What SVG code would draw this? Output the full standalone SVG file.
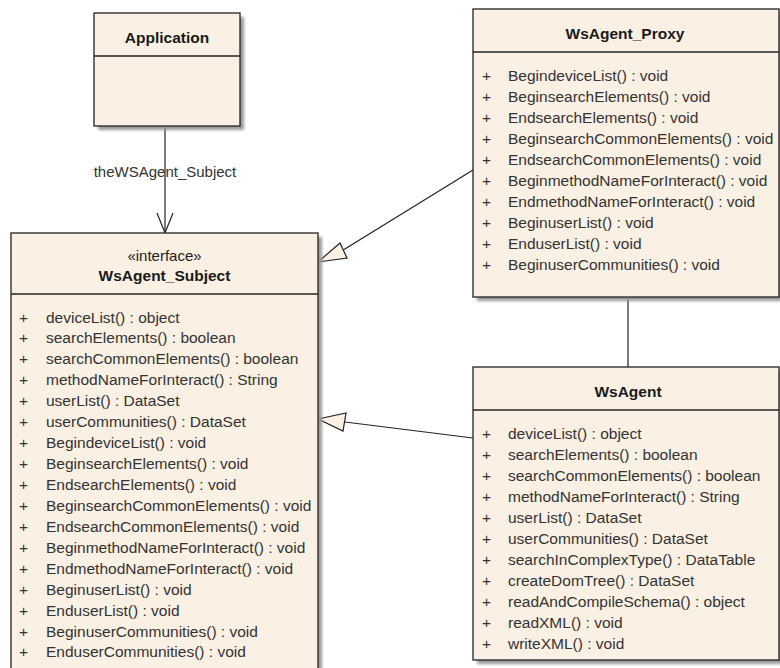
<svg xmlns="http://www.w3.org/2000/svg" width="780" height="668" viewBox="0 0 780 668">
<defs>
<filter id="sh" x="-10%" y="-10%" width="130%" height="130%"><feGaussianBlur stdDeviation="1.5"/></filter>
<style>
.box{fill:#FAF0E3;stroke:#222;stroke-width:1.3}
.shadow{fill:#9a9a9a;filter:url(#sh)}
.sep{stroke:#222;stroke-width:1.3}
.title{font-family:"Liberation Sans",Arial,sans-serif;font-size:15.5px;font-weight:bold;fill:#1a1a1a;text-anchor:middle}
.stereo{font-family:"Liberation Sans",Arial,sans-serif;font-size:15px;fill:#222;text-anchor:middle}
.m{font-family:"Liberation Sans",Arial,sans-serif;font-size:15.5px;fill:#333}
.lbl{font-family:"Liberation Sans",Arial,sans-serif;font-size:15px;fill:#333;text-anchor:middle}
.line{stroke:#222;stroke-width:1.2;fill:none}
.tri{stroke:#222;stroke-width:1.2;fill:#FAF0E3}
</style>
</defs>
<rect width="780" height="668" fill="#fff"/>

<g id="connectors">
<line class="line" x1="165" y1="126" x2="165" y2="233"/>
<polyline class="line" points="157,213 165,233 173,213"/>
<text class="lbl" x="165" y="177">theWSAgent_Subject</text>
<line class="line" x1="473" y1="170" x2="340" y2="252"/>
<polygon class="tri" points="318,262 340,243 347,258"/>
<line class="line" x1="473" y1="438" x2="345" y2="422"/>
<polygon class="tri" points="318,419 346,413 343,431"/>
<line class="line" x1="628" y1="297" x2="628" y2="367"/>
</g>

<g id="Application">
<rect class="shadow" x="98" y="17" width="146" height="113"/>
<rect class="box" x="94" y="13" width="146" height="113"/>
<line class="sep" x1="94" y1="56" x2="240" y2="56"/>
<text class="title" x="167" y="42.5">Application</text>
</g>

<g id="WsAgent_Subject">
<rect class="shadow" x="15" y="237" width="307" height="450"/>
<rect class="box" x="11" y="233" width="307" height="450"/>
<line class="sep" x1="11" y1="294" x2="318" y2="294"/>
<text class="stereo" x="164.5" y="261">«interface»</text>
<text class="title" x="164.5" y="281">WsAgent_Subject</text>
<g class="m">
<text x="19" y="322.5">+</text><text x="46" y="322.5">deviceList() : object</text>
<text x="19" y="343.4">+</text><text x="46" y="343.4">searchElements() : boolean</text>
<text x="19" y="364.4">+</text><text x="46" y="364.4">searchCommonElements() : boolean</text>
<text x="19" y="385.3">+</text><text x="46" y="385.3">methodNameForInteract() : String</text>
<text x="19" y="406.2">+</text><text x="46" y="406.2">userList() : DataSet</text>
<text x="19" y="427.2">+</text><text x="46" y="427.2">userCommunities() : DataSet</text>
<text x="19" y="448.1">+</text><text x="46" y="448.1">BegindeviceList() : void</text>
<text x="19" y="469">+</text><text x="46" y="469">BeginsearchElements() : void</text>
<text x="19" y="489.9">+</text><text x="46" y="489.9">EndsearchElements() : void</text>
<text x="19" y="510.9">+</text><text x="46" y="510.9">BeginsearchCommonElements() : void</text>
<text x="19" y="531.8">+</text><text x="46" y="531.8">EndsearchCommonElements() : void</text>
<text x="19" y="552.7">+</text><text x="46" y="552.7">BeginmethodNameForInteract() : void</text>
<text x="19" y="573.7">+</text><text x="46" y="573.7">EndmethodNameForInteract() : void</text>
<text x="19" y="594.6">+</text><text x="46" y="594.6">BeginuserList() : void</text>
<text x="19" y="615.5">+</text><text x="46" y="615.5">EnduserList() : void</text>
<text x="19" y="636.5">+</text><text x="46" y="636.5">BeginuserCommunities() : void</text>
<text x="19" y="657.4">+</text><text x="46" y="657.4">EnduserCommunities() : void</text>
</g>
</g>

<g id="WsAgent_Proxy">
<rect class="shadow" x="477" y="13" width="306" height="288"/>
<rect class="box" x="473" y="9" width="306" height="288"/>
<line class="sep" x1="473" y1="52" x2="779" y2="52"/>
<text class="title" x="625" y="38.5">WsAgent_Proxy</text>
<g class="m">
<text x="482" y="80.5">+</text><text x="508" y="80.5">BegindeviceList() : void</text>
<text x="482" y="101.6">+</text><text x="508" y="101.6">BeginsearchElements() : void</text>
<text x="482" y="122.7">+</text><text x="508" y="122.7">EndsearchElements() : void</text>
<text x="482" y="143.8">+</text><text x="508" y="143.8">BeginsearchCommonElements() : void</text>
<text x="482" y="164.9">+</text><text x="508" y="164.9">EndsearchCommonElements() : void</text>
<text x="482" y="186">+</text><text x="508" y="186">BeginmethodNameForInteract() : void</text>
<text x="482" y="207.1">+</text><text x="508" y="207.1">EndmethodNameForInteract() : void</text>
<text x="482" y="228.2">+</text><text x="508" y="228.2">BeginuserList() : void</text>
<text x="482" y="249.3">+</text><text x="508" y="249.3">EnduserList() : void</text>
<text x="482" y="270.4">+</text><text x="508" y="270.4">BeginuserCommunities() : void</text>
</g>
</g>

<g id="WsAgent">
<rect class="shadow" x="477" y="371" width="306" height="293"/>
<rect class="box" x="473" y="367" width="306" height="293"/>
<line class="sep" x1="473" y1="410" x2="779" y2="410"/>
<text class="title" x="628" y="396.5">WsAgent</text>
<g class="m">
<text x="482" y="438.5">+</text><text x="508" y="438.5">deviceList() : object</text>
<text x="482" y="459.5">+</text><text x="508" y="459.5">searchElements() : boolean</text>
<text x="482" y="480.5">+</text><text x="508" y="480.5">searchCommonElements() : boolean</text>
<text x="482" y="501.5">+</text><text x="508" y="501.5">methodNameForInteract() : String</text>
<text x="482" y="522.5">+</text><text x="508" y="522.5">userList() : DataSet</text>
<text x="482" y="543.5">+</text><text x="508" y="543.5">userCommunities() : DataSet</text>
<text x="482" y="564.5">+</text><text x="508" y="564.5">searchInComplexType() : DataTable</text>
<text x="482" y="585.5">+</text><text x="508" y="585.5">createDomTree() : DataSet</text>
<text x="482" y="606.5">+</text><text x="508" y="606.5">readAndCompileSchema() : object</text>
<text x="482" y="627.5">+</text><text x="508" y="627.5">readXML() : void</text>
<text x="482" y="648.5">+</text><text x="508" y="648.5">writeXML() : void</text>
</g>
</g>
</svg>
